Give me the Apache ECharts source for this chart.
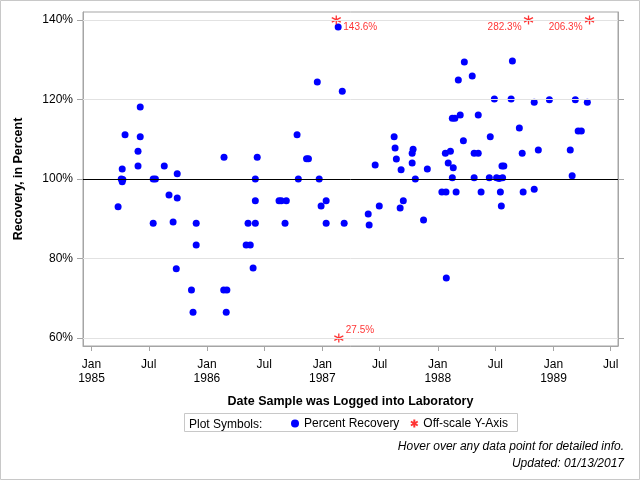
<!DOCTYPE html>
<html>
<head>
<meta charset="utf-8">
<script src="https://cdn.jsdelivr.net/npm/echarts@6/dist/echarts.min.js"></script>
<style>
  html, body { margin: 0; padding: 0; background: #fff; }
  #chart { width: 640px; height: 480px; }
</style>
</head>
<body>
<div id="chart"></div>
<script>
// sample log dates and percent recovery
const recoveryDates = [
  '1985-03-26', '1985-04-05', '1985-04-08', '1985-04-08', '1985-04-10', '1985-04-17',
  '1985-05-28', '1985-05-28', '1985-06-04', '1985-06-04', '1985-07-15', '1985-07-15',
  '1985-07-22', '1985-08-19', '1985-09-03', '1985-09-16', '1985-09-26', '1985-09-29',
  '1985-09-29', '1985-11-13', '1985-11-18', '1985-11-28', '1985-11-28',
  '1986-02-23', '1986-02-24', '1986-03-03', '1986-03-05', '1986-05-05', '1986-05-11',
  '1986-05-18', '1986-05-27', '1986-06-03', '1986-06-03', '1986-06-03', '1986-06-09',
  '1986-08-17', '1986-08-24', '1986-09-05', '1986-09-09', '1986-10-13', '1986-10-17',
  '1986-11-12', '1986-11-18', '1986-12-16', '1986-12-22', '1986-12-28',
  '1987-01-13', '1987-01-13', '1987-02-20', '1987-03-05', '1987-03-11', '1987-05-26',
  '1987-05-29', '1987-06-17', '1987-06-30', '1987-08-16', '1987-08-19', '1987-08-23',
  '1987-09-04', '1987-09-07', '1987-09-14', '1987-10-12', '1987-10-12', '1987-10-15',
  '1987-10-22', '1987-11-17', '1987-11-29',
  '1988-01-14', '1988-01-25', '1988-01-27', '1988-01-28', '1988-02-03', '1988-02-10',
  '1988-02-16', '1988-02-16', '1988-02-19', '1988-02-24', '1988-02-28', '1988-03-06',
  '1988-03-12', '1988-03-22', '1988-03-25', '1988-04-19', '1988-04-25', '1988-04-25',
  '1988-05-08', '1988-05-08', '1988-05-17', '1988-06-12', '1988-06-15', '1988-06-28',
  '1988-07-05', '1988-07-13', '1988-07-17', '1988-07-20', '1988-07-22', '1988-07-24',
  '1988-07-28', '1988-08-20', '1988-08-24', '1988-09-15', '1988-09-24', '1988-09-27',
  '1988-11-01', '1988-11-01', '1988-11-14', '1988-12-19',
  '1989-02-23', '1989-03-01', '1989-03-11', '1989-03-20', '1989-03-30', '1989-04-18'
]
const recoveryValues = [
  93.0, 100.0, 102.5, 99.3, 99.9, 111.1,
  107.0, 103.3, 118.1, 110.6, 100.0, 88.9,
  100.0, 103.3, 96.0, 89.2, 77.4, 101.3,
  95.2, 72.1, 66.5, 88.9, 83.4,
  72.1, 105.5, 66.5, 72.1, 83.4, 88.9,
  83.4, 77.6, 88.9, 94.5, 100.0, 105.5,
  94.5, 94.5, 88.9, 94.5, 111.1, 100.0,
  105.1, 105.1, 124.4, 100.0, 93.2,
  94.5, 88.9, 138.2, 122.1, 88.9, 91.2,
  88.4, 103.5, 93.2, 110.6, 107.8, 105.0,
  92.7, 102.3, 94.5, 106.5, 104.0, 107.5,
  100.0, 89.7, 102.5,
  96.7, 106.5, 96.7, 75.1, 104.0, 107.0,
  100.3, 115.3, 102.8, 115.3, 96.7, 124.9,
  116.1, 109.6, 129.4, 125.9, 106.5, 100.3,
  106.5, 116.1, 96.7, 100.3, 110.6, 120.1,
  100.3, 100.1, 96.7, 93.2, 103.3, 100.3,
  103.3, 120.1, 129.7, 112.8, 106.5, 96.7,
  119.3, 97.4, 107.3, 119.9,
  107.3, 100.8, 119.9, 112.1, 112.1, 119.3
]

// values that fall outside the y range
const offscaleDates = ['1987-02-14', '1987-02-22', '1988-10-14', '1989-04-25']
const offscaleValues = [143.6, 27.5, 282.3, 206.3]
const offscaleLabelSide = ['right', 'right', 'left', 'left']

const yTicks = [60, 80, 100, 120, 140]
const xTickDates = [
  '1985-01-01', '1985-07-01', '1986-01-01', '1986-07-01', '1987-01-01',
  '1987-07-01', '1988-01-01', '1988-07-01', '1989-01-01', '1989-07-01'
]
const xTickLabels = [
  'Jan\n1985', 'Jul', 'Jan\n1986', 'Jul', 'Jan\n1987',
  'Jul', 'Jan\n1988', 'Jul', 'Jan\n1989', 'Jul'
]

const FONT = "'Liberation Sans', Arial, sans-serif"
const AXIS_GREY = '#a5a5a5'
const ASTERISK = 'path://M5,0L5,10M0.7,2.5L9.3,7.5M0.7,7.5L9.3,2.5'

function toTime(s) {
  const [y, m, d] = s.split('-').map(Number)
  return new Date(y, m - 1, d).getTime()
}

const xTickTimes = xTickDates.map(toTime)
const yMin = 58
const yMax = 142

const chart = echarts.init(document.getElementById('chart'), null, { renderer: 'canvas' })

chart.setOption({
  animation: false,
  backgroundColor: '#fff',
  textStyle: { fontFamily: FONT },
  grid: {
    left: 83,
    right: 22,
    top: 12,
    bottom: 134,
    show: true,
    borderColor: AXIS_GREY,
    borderWidth: 1,
    backgroundColor: 'transparent'
  },
  xAxis: {
    // dates kept as millisecond timestamps on a value axis
    type: 'value',
    scale: true,
    min: toTime('1984-12-05'),
    max: toTime('1989-07-24'),
    name: 'Date Sample was Logged into Laboratory',
    nameLocation: 'middle',
    nameGap: 49,
    nameTextStyle: { fontFamily: FONT, fontSize: 12.5, fontWeight: 'bold', color: '#000' },
    axisLine: { show: true, lineStyle: { color: AXIS_GREY, width: 1 } },
    axisTick: { show: true, length: 5, customValues: xTickTimes, lineStyle: { color: AXIS_GREY } },
    axisLabel: {
      customValues: xTickTimes,
      margin: 12,
      fontFamily: FONT,
      fontSize: 12,
      lineHeight: 14,
      color: '#000',
      formatter: (val) => {
        const i = xTickTimes.indexOf(val)
        return i >= 0 ? xTickLabels[i] : ''
      }
    },
    splitLine: { show: false },
    minorTick: { show: false }
  },
  yAxis: [
    {
      type: 'value',
      min: yMin,
      max: yMax,
      name: 'Recovery, in Percent',
      nameLocation: 'middle',
      nameGap: 58,
      nameRotate: 90,
      nameTextStyle: { fontFamily: FONT, fontSize: 12.5, fontWeight: 'bold', color: '#000' },
      axisLine: { show: true, lineStyle: { color: AXIS_GREY, width: 1 } },
      axisTick: { show: true, length: 6, customValues: yTicks, lineStyle: { color: AXIS_GREY } },
      axisLabel: {
        customValues: yTicks,
        margin: 10,
        fontFamily: FONT,
        fontSize: 12,
        color: '#000',
        formatter: '{value}%'
      },
      splitLine: { show: false }
    },
    {
      type: 'value',
      position: 'right',
      min: yMin,
      max: yMax,
      axisLine: { show: true, lineStyle: { color: AXIS_GREY, width: 1 } },
      axisTick: { show: true, length: 6, customValues: yTicks, lineStyle: { color: AXIS_GREY } },
      axisLabel: { show: false },
      splitLine: { show: false }
    }
  ],
  legend: {
    left: 291,
    top: 417,
    itemWidth: 8,
    itemHeight: 8,
    itemGap: 9,
    padding: 0,
    selectedMode: false,
    textStyle: { fontFamily: FONT, fontSize: 12, color: '#000' },
    data: [
      { name: 'Percent Recovery', icon: 'circle' },
      { name: 'Off-scale Y-Axis', icon: ASTERISK }
    ]
  },
  graphic: [
    {
      type: 'rect',
      shape: { x: 0.5, y: 0.5, width: 639, height: 479 },
      style: { fill: 'none', stroke: '#c8c8c8', lineWidth: 1 },
      silent: true
    },
    {
      type: 'rect',
      shape: { x: 184.5, y: 413.5, width: 333, height: 18 },
      style: { fill: 'none', stroke: '#c8c8c8', lineWidth: 1 },
      silent: true
    },
    {
      type: 'text',
      left: 189,
      top: 418.5,
      style: { text: 'Plot Symbols:', font: '12px ' + FONT, fill: '#000' }
    },
    {
      type: 'text',
      right: 16,
      top: 441,
      style: { text: 'Hover over any data point for detailed info.', font: 'italic 12px ' + FONT, fill: '#000' }
    },
    {
      type: 'text',
      right: 16,
      top: 458,
      style: { text: 'Updated: 01/13/2017', font: 'italic 12px ' + FONT, fill: '#000' }
    }
  ],
  series: [
    {
      // reference lines drawn underneath the points
      name: 'grid',
      type: 'line',
      data: [],
      z: 1,
      silent: true,
      markLine: {
        silent: true,
        symbol: 'none',
        animation: false,
        label: { show: false },
        data: yTicks.map((v) => ({
          yAxis: v,
          lineStyle: { color: v === 100 ? '#000' : '#e2e2e2', width: 1, type: 'solid' }
        }))
      }
    },
    {
      name: 'Percent Recovery',
      type: 'scatter',
      z: 3,
      symbol: 'circle',
      symbolSize: 7,
      itemStyle: { color: '#0000ff', opacity: 1 },
      data: recoveryDates.map((d, i) => [toTime(d), recoveryValues[i]])
    },
    {
      name: 'Off-scale Y-Axis',
      type: 'scatter',
      z: 4,
      symbol: ASTERISK,
      symbolSize: 9,
      itemStyle: { color: 'none', borderColor: '#ff0000', borderWidth: 1.3 },
      label: {
        show: true,
        color: '#ff0000',
        fontFamily: FONT,
        fontSize: 10,
        distance: 0
      },
      data: offscaleDates.map((d, i) => {
        const v = offscaleValues[i]
        const shown = Math.min(Math.max(v, 60), 140)
        const above = v < 60
        return {
          value: [toTime(d), shown],
          label: {
            position: offscaleLabelSide[i],
            offset: [0, above ? -8 : 7],
            formatter: v.toFixed(1) + '%'
          }
        }
      })
    }
  ]
})
</script>
</body>
</html>
